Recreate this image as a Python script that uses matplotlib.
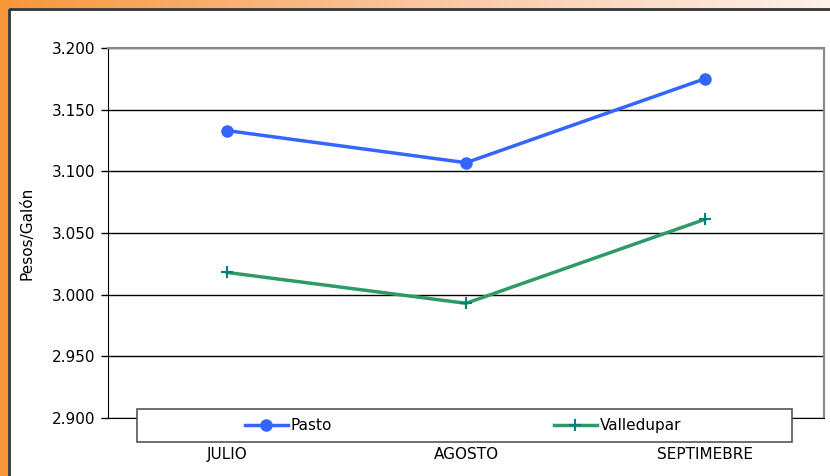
import numpy as np
import matplotlib.pyplot as plt
from matplotlib.patches import Rectangle
from matplotlib.lines import Line2D
from matplotlib.colors import LinearSegmentedColormap

# datos
meses = ['JULIO', 'AGOSTO', 'SEPTIMEBRE']
pasto = [3.133, 3.107, 3.175]
valledupar = [3.018, 2.993, 3.061]
y_ticks = [2.900, 2.950, 3.000, 3.050, 3.100, 3.150, 3.200]
y_labels = ['2.900', '2.950', '3.000', '3.050', '3.100', '3.150', '3.200']

W, H = 830, 476
fig = plt.figure(figsize=(W / 100, H / 100), dpi=100)
plt.rcParams['font.family'] = ['DejaVu Sans']

# marco naranja (izquierda y arriba con degradado)
bg = fig.add_axes([0, 0, 1, 1])
bg.set_xlim(0, W)
bg.set_ylim(H, 0)
bg.axis('off')
grad = np.linspace(0, 1, 256).reshape(1, -1)
cmap = LinearSegmentedColormap.from_list('nar', ['#f7973a', '#fbc59e', '#fdf1ea'])
bg.imshow(grad, extent=[0, W, 8, 0], aspect='auto', cmap=cmap)
bg.add_patch(Rectangle((0, 0), 8, H, color='#f7973a', lw=0))
bg.plot([8.5, 8.5, W], [H, 8.5, 8.5], color='#333333', lw=2)

ax = fig.add_axes([108 / W, 1 - 418 / H, (824 - 108) / W, (418 - 48) / H])
x = np.arange(len(meses))
ax.plot(x, pasto, color='#3366ff', lw=2.5, marker='o', ms=8, zorder=3)
ax.plot(x, valledupar, color='#2e9a68', lw=2.5, marker='+', ms=9,
        mec='#00807f', mew=1.5, zorder=3)

ax.set_xlim(-0.5, 2.5)
ax.set_ylim(2.9, 3.2)
ax.set_yticks(y_ticks)
ax.set_yticklabels(y_labels, fontsize=11)
ax.set_xticks(x)
ax.set_xticklabels(meses, fontsize=11)
ax.tick_params(axis='x', length=0, pad=21)
ax.tick_params(axis='y', length=5, width=1, pad=4)
ax.yaxis.grid(True, color='black', lw=1)
ax.set_axisbelow(True)
for s in ['top', 'right']:
    ax.spines[s].set_color('#888888')
    ax.spines[s].set_linewidth(1.5)
ax.spines['left'].set_color('black')
ax.spines['bottom'].set_color('black')
ax.set_ylabel('Pesos/Galón', fontsize=11)
ax.yaxis.set_label_coords(-0.102, 0.5)

# leyenda: marco aparte (encima del eje) y entradas dentro
caja = Rectangle((137 / W, 1 - 442 / H), (792 - 137) / W, 33 / H,
                 transform=fig.transFigure, facecolor='white',
                 edgecolor='#555555', lw=1.2, zorder=5)
fig.add_artist(caja)
h1 = Line2D([], [], color='#3366ff', lw=2.5, marker='o', ms=8)
h2 = Line2D([], [], color='#2e9a68', lw=2.5, marker='+', ms=9, mec='#00807f', mew=1.5)
leg = fig.legend([h1, h2], ['Pasto', 'Valledupar'], ncol=2, loc='center left',
                 bbox_to_anchor=(245 / W, 1 - 425.5 / H),
                 fontsize=11, frameon=False, borderpad=0, borderaxespad=0,
                 handlelength=2.8, handletextpad=0.2, columnspacing=14.5)
leg.set_zorder(6)

fig.savefig('out.png', dpi=100)
